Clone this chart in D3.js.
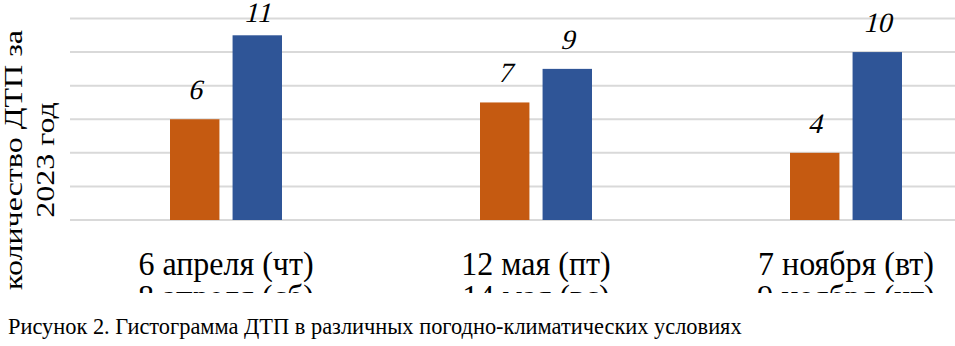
<!DOCTYPE html>
<html>
<head>
<meta charset="utf-8">
<script src="https://cdn.jsdelivr.net/npm/d3@7"></script>
<style>
  body { margin: 0; background: #fff; }
  svg { display: block; }
</style>
</head>
<body>
<div class="container"></div>
<script>
// data
var categories = [
    ["6 апреля (чт)", "8 апреля (сб)"],
    ["12 мая (пт)", "14 мая (вс)"],
    ["7 ноября (вт)", "9 ноября (чт)"]
];
var seriesNames = ["s1", "s2"];
var seriesColors = ["#c55a11", "#2f5597"];
var firstValues = [6, 7, 4];
var secondValues = [11, 9, 10];
var yTicks = [0, 2, 4, 6, 8, 10, 12];
var yTitle = ["количество ДТП за", "2023 год"];
var caption = "Рисунок 2. Гистограмма ДТП в различных погодно-климатических условиях";

var serif = '"Liberation Serif"';

(function(){
    var width = 955, height = 346;
    var svg = d3.select('.container').append('svg')
        .attr('width', width).attr('height', height);

    // the chart is cut at the bottom like in the document
    svg.append('clipPath').attr('id', 'cut')
        .append('rect').attr('x', 0).attr('y', 0).attr('width', width).attr('height', 293);

    var chart = svg.append('g').attr('clip-path', 'url(#cut)');

    var rows = categories.map(function(c, i){
        return { label: c, values: [firstValues[i], secondValues[i]] };
    });

    var x0 = d3.scaleBand()
        .domain(d3.range(rows.length))
        .range([71, 1001]);
    var x1 = d3.scaleBand()
        .domain(seriesNames)
        .range([99, 211])
        .paddingInner(0.21);
    var y = d3.scaleLinear()
        .domain([0, 12])
        .range([220, 18.5]);

    // gridlines
    chart.append('g')
        .selectAll('line')
        .data(yTicks)
        .enter().append('line')
        .attr('x1', 70).attr('x2', 1001)
        .attr('y1', function(d){ return y(d); })
        .attr('y2', function(d){ return y(d); })
        .attr('stroke', '#d9d9d9')
        .attr('stroke-width', 2);

    var groups = chart.selectAll('g.grp')
        .data(rows)
        .enter().append('g')
        .attr('class', 'grp')
        .attr('transform', function(d, i){ return 'translate(' + x0(i) + ',0)'; });

    groups.selectAll('rect')
        .data(function(d){ return d.values.map(function(v, j){ return { v: v, s: seriesNames[j], c: seriesColors[j] }; }); })
        .enter().append('rect')
        .attr('x', function(d){ return x1(d.s); })
        .attr('y', function(d){ return y(d.v); })
        .attr('width', x1.bandwidth())
        .attr('height', function(d){ return y(0) - y(d.v); })
        .attr('fill', function(d){ return d.c; });

    // value labels: no serif italic face here, so slant the upright one
    groups.selectAll('text.val')
        .data(function(d){ return d.values.map(function(v, j){ return { v: v, s: seriesNames[j] }; }); })
        .enter().append('text')
        .attr('class', 'val')
        .attr('transform', function(d){
            var lx = x1(d.s) + x1.bandwidth() / 2;
            var ly = Math.max(y(d.v) - 20, 22);
            return 'translate(' + lx + ',' + ly + ') skewX(-14)';
        })
        .attr('text-anchor', 'middle')
        .style('font-family', serif)
        .style('font-size', '28px')
        .text(function(d){ return d.v; });

    // category labels, two lines (text in the picture is a bit tall)
    groups.each(function(d){
        var t = d3.select(this).append('text')
            .attr('transform', 'translate(' + (x0.bandwidth() / 2) + ',275) scale(1,1.08)')
            .attr('text-anchor', 'middle')
            .style('font-family', serif)
            .style('font-size', '32px');
        d.label.forEach(function(line, k){
            t.append('tspan')
                .attr('x', 0)
                .attr('y', k * 30.5)
                .text(line);
        });
    });

    // y axis title
    var yt = chart.append('text')
        .attr('transform', 'translate(0,160) rotate(-90) scale(1.28,1)')
        .attr('text-anchor', 'middle')
        .style('font-family', serif)
        .style('font-size', '25px');
    yTitle.forEach(function(line, k){
        yt.append('tspan')
            .attr('x', 0)
            .attr('y', 22 + k * 32)
            .text(line);
    });

    svg.append('text')
        .attr('x', 8)
        .attr('y', 334)
        .style('font-family', serif)
        .style('font-size', '22.4px')
        .text(caption);
})();
</script>
</body>
</html>
